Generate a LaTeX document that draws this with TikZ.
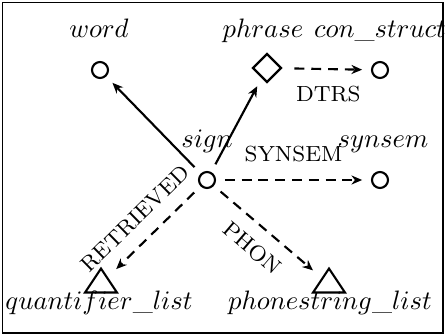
\documentclass[tikz,border=0pt]{standalone}
\usetikzlibrary{shapes.geometric,arrows.meta}
\begin{document}
\begin{tikzpicture}[x=0.375pt,y=-0.375pt]
\tikzset{
 lbl/.style={font=\fontsize{8.2}{10}\selectfont, inner sep=2.7pt},
 tlab/.style={anchor=base, inner sep=0pt},
 disc/.style={circle,draw,line width=0.8pt,minimum size=6pt,inner sep=0pt,outer sep=3.7pt},
 dia/.style={regular polygon,regular polygon sides=4,shape border rotate=45,draw,line width=0.8pt,minimum size=10.5pt,inner sep=0pt,outer sep=3.7pt},
 tri/.style={isosceles triangle,isosceles triangle stretches,shape border rotate=90,draw,line width=0.8pt,minimum width=12pt,minimum height=9pt,inner sep=0pt,outer sep=3.7pt},
 link/.style={line width=0.8pt,-{Stealth[length=4pt,width=3.4pt]}},
 dlink/.style={link,dash pattern=on 3.7pt off 2.6pt},
}
\useasboundingbox (0,0) rectangle (446,336);
\draw[line width=0.4pt] (2.5,2.5) rectangle (443,333);
\node[disc] (word) at (100,70) {};
\node[dia] (phrase) at (267,68) {};
\node[disc] (con) at (380,70) {};
\node[disc] (sign) at (207,180) {};
\node[disc] (synsem) at (380,180) {};
\node[tri] (quant) at (101,284) {};
\node[tri] (phon) at (329,284) {};
\node[tlab] (wordl) at (99,37) {$word$};
\node[tlab] (phrasel) at (263,37) {$phrase$};
\node[tlab] (conl) at (380,37) {$con\_struct$};
\node[tlab] (signl) at (207,147) {$sign$};
\node[tlab] (synseml) at (383,147) {$synsem$};
\node[tlab] (quantl) at (99,310) {$quantifier\_list$};
\node[tlab] (phonl) at (330,310) {$phonestring\_list$};
\draw[link] (sign) -- (word);
\draw[link] (sign) -- (phrase);
\draw[dlink] (phrase) -- node[lbl,below=3.3pt]{DTRS} (con);
\draw[dlink] (sign) -- node[lbl,above=3.8pt]{SYNSEM} (synsem);
\draw[dlink] (sign) -- node[lbl,sloped,above=2.6pt,pos=0.55]{RETRIEVED} (quant);
\draw[dlink] (sign) -- node[lbl,sloped,below=2.4pt]{PHON} (phon);
\end{tikzpicture}
\end{document}
